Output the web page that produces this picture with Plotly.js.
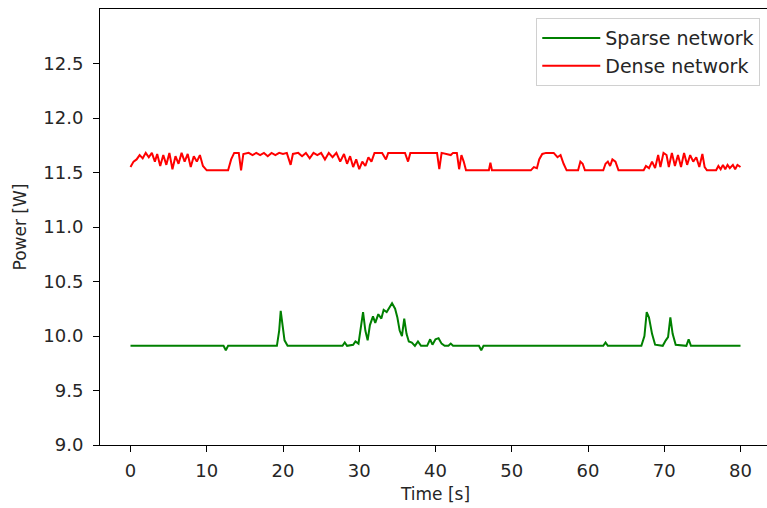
<!DOCTYPE html>
<html>
<head>
<meta charset="utf-8">
<script src="https://cdn.plot.ly/plotly-3.0.1.min.js"></script>
<style>html,body{margin:0;padding:0;background:#fff;overflow:hidden;width:767px;height:508px}#chart{width:771px;height:508px}</style>
</head>
<body>
<div id="chart"></div>
<script>
// Sparse network (green)
const timeSparse = [0, 12.2, 12.5, 12.8, 19.2, 19.5, 19.7, 19.9, 20.2, 20.6, 27.8, 28.1, 28.4, 29.2, 29.5, 29.9, 30.2, 30.5, 30.8, 31.1, 31.4, 31.8, 32.1, 32.5, 32.9, 33.2, 33.6, 34.0, 34.3, 34.7, 35.0, 35.3, 35.6, 35.9, 36.2, 36.5, 36.9, 37.3, 37.7, 38.1, 38.5, 38.9, 39.3, 39.6, 40.0, 40.4, 40.8, 41.2, 41.7, 42.0, 42.3, 45.7, 46.0, 46.3, 62.0, 62.3, 62.6, 67.0, 67.4, 67.7, 68.0, 68.4, 68.8, 69.8, 70.2, 70.5, 70.8, 71.1, 71.5, 72.9, 73.2, 73.5, 80];
const powerSparse = [9.91, 9.91, 9.87, 9.91, 9.91, 10.05, 10.23, 10.12, 9.96, 9.91, 9.91, 9.94, 9.91, 9.92, 9.95, 9.93, 10.08, 10.22, 10.05, 9.96, 10.1, 10.18, 10.12, 10.2, 10.16, 10.24, 10.22, 10.27, 10.30, 10.25, 10.17, 10.05, 10.0, 10.16, 10.02, 9.95, 9.94, 9.91, 9.95, 9.91, 9.91, 9.91, 9.97, 9.92, 9.97, 9.98, 9.93, 9.91, 9.91, 9.93, 9.91, 9.91, 9.87, 9.91, 9.91, 9.94, 9.91, 9.91, 10.0, 10.22, 10.17, 10.02, 9.92, 9.91, 9.96, 9.99, 10.17, 10.02, 9.92, 9.91, 9.97, 9.91, 9.91];

// Dense network (red)
const timeDense = [0, 0.4, 0.8, 1.2, 1.6, 2.0, 2.4, 2.8, 3.2, 3.5, 3.9, 4.3, 4.7, 5.1, 5.5, 5.9, 6.3, 6.7, 7.1, 7.5, 7.9, 8.3, 8.7, 9.1, 9.5, 10.0, 12.8, 13.2, 13.6, 14.2, 14.5, 14.8, 15.5, 16, 16.5, 17, 17.5, 18, 18.5, 19, 19.5, 20, 20.5, 21, 21.3, 22, 22.5, 23, 23.5, 24, 24.5, 25, 25.5, 26, 26.5, 27, 27.5, 28, 28.4, 28.8, 29.2, 29.6, 30, 30.4, 30.8, 31.2, 31.6, 32, 33, 33.5, 33.8, 36, 36.4, 36.7, 40.2, 40.5, 40.8, 41.5, 42, 42.3, 42.8, 43.1, 43.4, 43.7, 44.0, 47.0, 47.2, 47.4, 52.5, 52.9, 53.3, 53.6, 54, 54.5, 55.5, 56, 56.4, 56.8, 57.2, 58.7, 59.0, 59.3, 59.6, 62, 62.3, 62.6, 62.9, 63.2, 63.6, 64, 67.3, 67.6, 68, 68.4, 68.8, 69.2, 69.5, 69.9, 70.3, 70.6, 71, 71.4, 71.8, 72.2, 72.6, 73, 73.4, 73.8, 74.2, 74.6, 75, 75.3, 75.6, 76.8, 77.1, 77.4, 77.7, 78.0, 78.3, 78.6, 79, 79.3, 79.6, 80];
const powerDense = [11.55, 11.60, 11.62, 11.66, 11.63, 11.68, 11.64, 11.68, 11.60, 11.67, 11.56, 11.66, 11.57, 11.68, 11.53, 11.65, 11.58, 11.68, 11.60, 11.67, 11.55, 11.65, 11.60, 11.66, 11.56, 11.52, 11.52, 11.62, 11.68, 11.68, 11.52, 11.67, 11.68, 11.66, 11.68, 11.66, 11.68, 11.65, 11.68, 11.66, 11.68, 11.67, 11.68, 11.57, 11.67, 11.68, 11.65, 11.68, 11.63, 11.68, 11.66, 11.68, 11.62, 11.68, 11.64, 11.68, 11.60, 11.67, 11.58, 11.65, 11.55, 11.62, 11.53, 11.60, 11.56, 11.64, 11.60, 11.68, 11.68, 11.62, 11.68, 11.68, 11.60, 11.68, 11.68, 11.53, 11.68, 11.67, 11.66, 11.68, 11.68, 11.53, 11.66, 11.60, 11.52, 11.52, 11.59, 11.52, 11.52, 11.55, 11.54, 11.62, 11.67, 11.68, 11.68, 11.64, 11.66, 11.58, 11.52, 11.52, 11.60, 11.58, 11.52, 11.52, 11.58, 11.60, 11.56, 11.62, 11.60, 11.52, 11.52, 11.56, 11.54, 11.60, 11.54, 11.66, 11.55, 11.68, 11.66, 11.55, 11.68, 11.56, 11.66, 11.55, 11.68, 11.57, 11.66, 11.60, 11.64, 11.55, 11.67, 11.55, 11.52, 11.52, 11.56, 11.53, 11.57, 11.53, 11.57, 11.54, 11.57, 11.53, 11.57, 11.55];

const xTicks = [0, 10, 20, 30, 40, 50, 60, 70, 80];
const yTicks = [9.0, 9.5, 10.0, 10.5, 11.0, 11.5, 12.0, 12.5];
const yTickLabels = ['9.0', '9.5', '10.0', '10.5', '11.0', '11.5', '12.0', '12.5'];

const tickFont = {family: 'DejaVu Sans', size: 18, color: '#262626'};
const titleFont = {family: 'DejaVu Sans', size: 17, color: '#262626'};
const legendFont = {family: 'DejaVu Sans', size: 19, color: '#262626'};

const traces = [
  {x: timeSparse, y: powerSparse, mode: 'lines', name: 'Sparse network', line: {color: '#008000', width: 2}},
  {x: timeDense, y: powerDense, mode: 'lines', name: 'Dense network', line: {color: '#ff0000', width: 2}}
];

const axisCommon = {
  showline: true, mirror: true, linecolor: '#000', linewidth: 1,
  ticks: 'outside', ticklen: 6, tickwidth: 1, tickcolor: '#000',
  showgrid: false, zeroline: false, tickfont: tickFont
};

const layout = {
  width: 771, height: 508,
  margin: {l: 100, r: 0, t: 9, b: 63},
  paper_bgcolor: '#fff', plot_bgcolor: '#fff',
  font: tickFont,
  showlegend: true,
  legend: {x: 0.984, y: 0.979, xanchor: 'right', yanchor: 'top', bgcolor: '#fff', bordercolor: '#d0d0d0', borderwidth: 1, font: legendFont, tracegroupgap: 0, itemwidth: 58},
  xaxis: Object.assign({}, axisCommon, {range: [-4, 84], tickvals: xTicks, ticklabelstandoff: 3, title: {text: 'Time [s]', font: titleFont, standoff: 8}}),
  yaxis: Object.assign({}, axisCommon, {range: [9, 13], tickvals: yTicks, ticktext: yTickLabels, ticklabelstandoff: 6, title: {text: 'Power [W]', font: titleFont, standoff: 12}})
};

Plotly.newPlot('chart', traces, layout, {staticPlot: true, displayModeBar: false});
</script>
</body>
</html>
